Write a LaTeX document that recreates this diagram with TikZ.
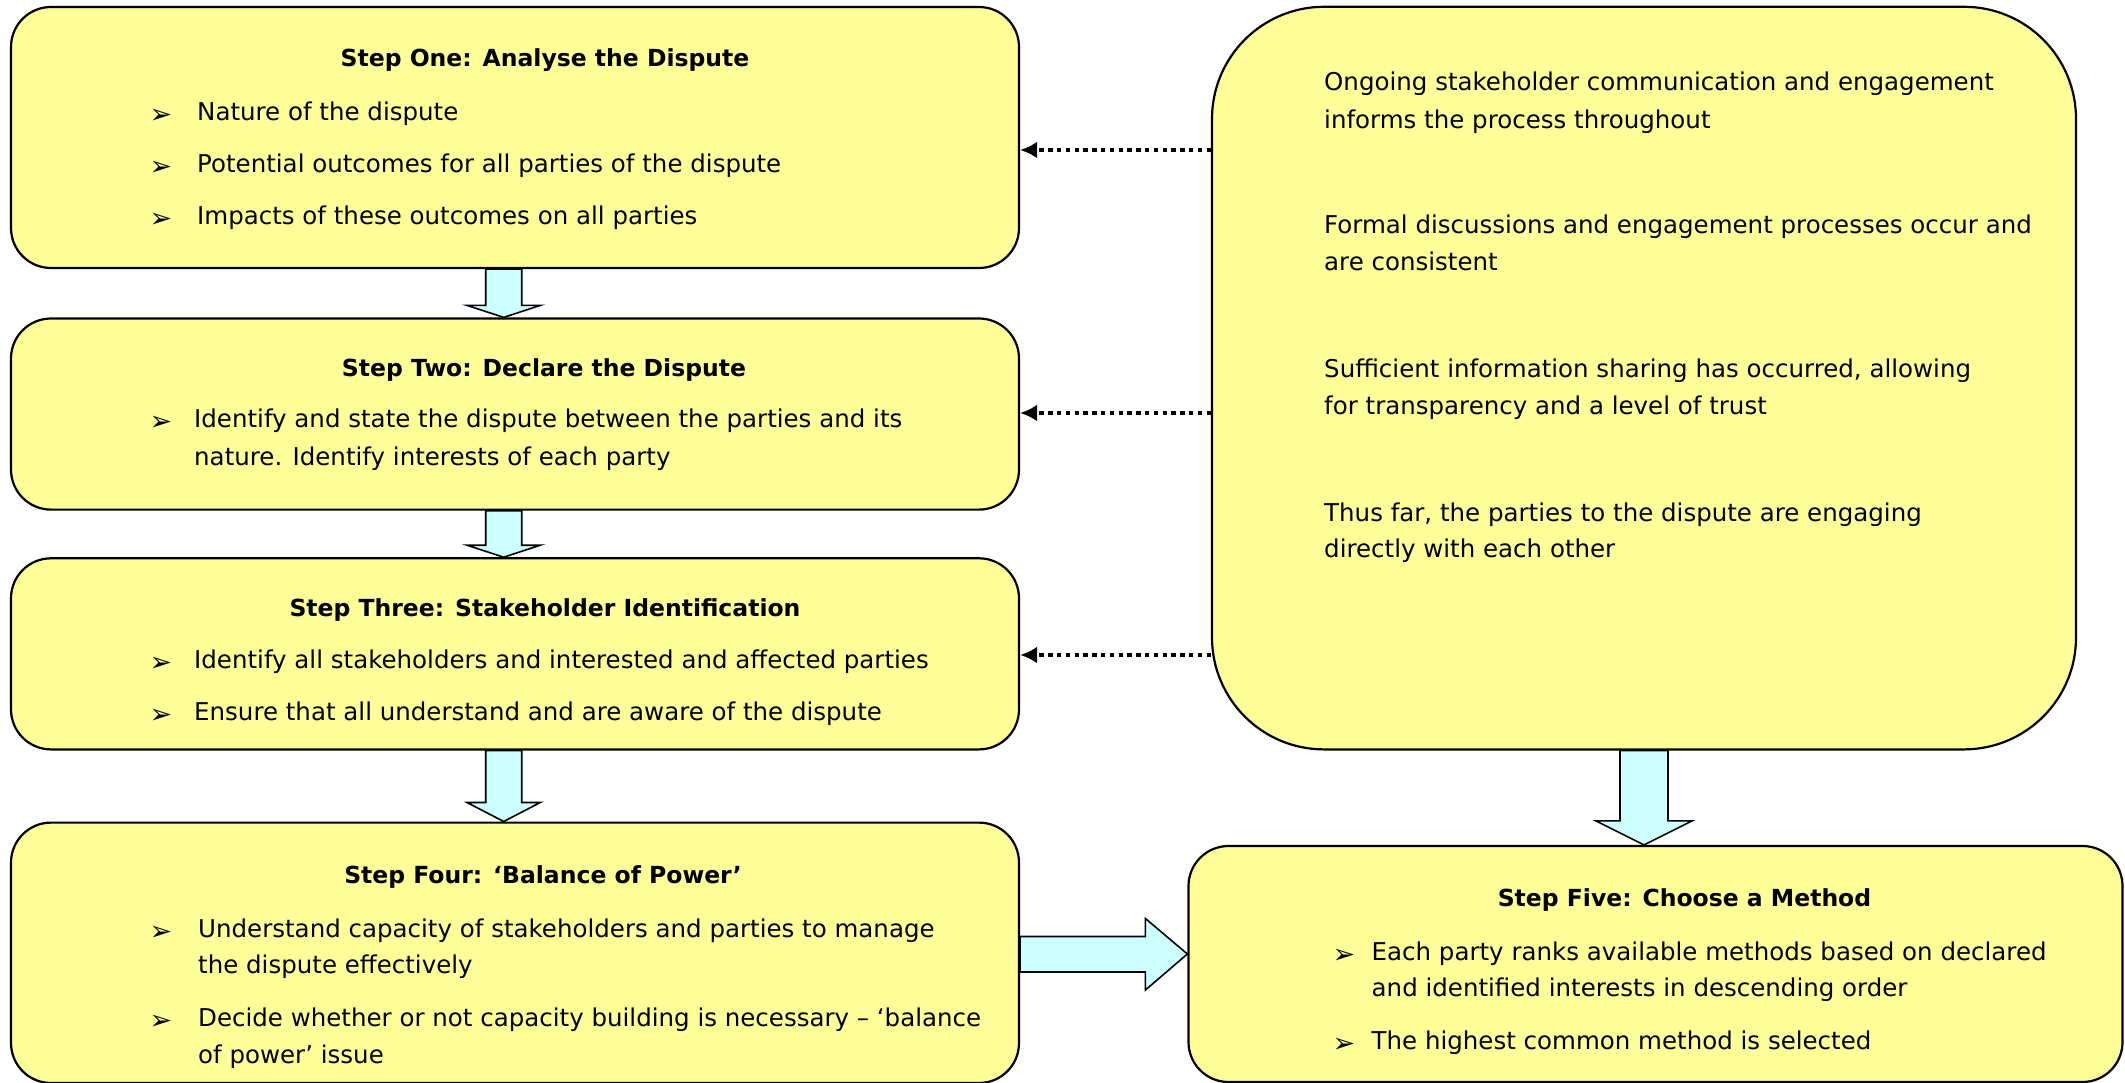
\documentclass[tikz,border=0pt]{standalone}
\usepackage{fontspec}
\setmainfont{DejaVu Sans}
\usetikzlibrary{arrows.meta,fit,calc,backgrounds}
\definecolor{boxfill}{RGB}{255,255,153}
\definecolor{arrowfill}{RGB}{204,255,255}
\newcommand\bodyfont{\fontsize{24.5}{36.6}\selectfont}
\newcommand\headfont{\fontsize{23.5}{30}\selectfont\bfseries}
\newcommand\bulletfont{\fontsize{27}{28}\selectfont}

\begin{document}
\begin{tikzpicture}[x=1pt,y=-1pt,
  box/.style={draw=black, line width=2.2pt, fill=boxfill, inner sep=0pt, rounded corners=40pt},
  ttl/.style={anchor=mid, inner sep=0pt, font=\headfont},
  txt/.style={anchor=mid west, inner sep=0pt, font=\bodyfont},
  bul/.style={anchor=center, inner sep=0pt, font=\bulletfont},
  dotarrow/.style={line width=4.4pt, dash pattern=on 4.4pt off 4.4pt, -{Latex[length=17pt,width=17pt]}},
  blockarrow/.style={draw=black, line width=1.6pt, fill=arrowfill, line join=miter}]

\useasboundingbox (0,0) rectangle (2125,1083);
\clip (0,0) rectangle (2125,1083);

% step boxes
\node[box, fit={(11,7)(1019,268)}] (b1) {};
\node[box, fit={(11,318.5)(1019,509.6)}] (b2) {};
\node[box, fit={(11,558.3)(1019,749.4)}] (b3) {};
\node[box, fit={(11,822.6)(1019,1083)}] (b4) {};
\node[box, fit={(1188.5,846)(2122.5,1082)}] (b5) {};
% stakeholder engagement box
\node[box, rounded corners=112pt, fit={(1212,6.8)(2076,749.4)}] (rb) {};

% block arrows between the steps
\begin{scope}[on background layer]
\draw[blockarrow] let \p1=(b1.south), \p2=(b2.north) in
  (485.7pt,\y1) -- (485.7pt,\y2+12pt) -- (467pt,\y2+12pt) -- (503.7pt,\y2)
  -- (540.3pt,\y2+12pt) -- (521.7pt,\y2+12pt) -- (521.7pt,\y1) -- cycle;
\draw[blockarrow] let \p1=(b2.south), \p2=(b3.north) in
  (485.7pt,\y1) -- (485.7pt,\y2+12pt) -- (467pt,\y2+12pt) -- (503.7pt,\y2)
  -- (540.3pt,\y2+12pt) -- (521.7pt,\y2+12pt) -- (521.7pt,\y1) -- cycle;
\draw[blockarrow] let \p1=(b3.south), \p2=(b4.north) in
  (485.7pt,\y1) -- (485.7pt,\y2+19pt) -- (467pt,\y2+19pt) -- (503.7pt,\y2)
  -- (540.3pt,\y2+19pt) -- (521.7pt,\y2+19pt) -- (521.7pt,\y1) -- cycle;
\draw[blockarrow] let \p1=(b4.east), \p2=(b5.west) in
  (\x1,-936.5pt) -- (\x2-42pt,-936.5pt) -- (\x2-42pt,-918.5pt) -- (\x2,-954pt)
  -- (\x2-42pt,-990pt) -- (\x2-42pt,-972pt) -- (\x1,-972pt) -- cycle;
\draw[blockarrow] let \p1=(rb.south), \p2=(b5.north) in
  (\x1-24pt,\y1) -- (\x1-24pt,\y2+24pt) -- (\x1-48pt,\y2+24pt) -- (\x1,\y2)
  -- (\x1+48pt,\y2+24pt) -- (\x1+24pt,\y2+24pt) -- (\x1+24pt,\y1) -- cycle;
\end{scope}

% dotted feedback arrows
\coordinate (r1) at (0,150);
\coordinate (r2) at (0,413);
\coordinate (r3) at (0,655);
\draw[dotarrow] (rb.west |- r1) -- (b1.east |- r1);
\draw[dotarrow] (rb.west |- r2) -- (b2.east |- r2);
\draw[dotarrow] (rb.west |- r3) -- (b3.east |- r3);

% Step One
\node[ttl] (h1) at (545,64) {Step One: Analyse the Dispute};
\node[bul] (m1a) at (161,116) {➢};
\node[txt] (l1a) at (197,117.5) {Nature of the dispute};
\node[bul] (m1b) at (161,168) {➢};
\node[txt] (l1b) at (197,169.5) {Potential outcomes for all parties of the dispute};
\node[bul] (m1c) at (161,220) {➢};
\node[txt] (l1c) at (197,221.5) {Impacts of these outcomes on all parties};

% Step Two
\node[ttl] (h2) at (544,373.5) {Step Two: Declare the Dispute};
\node[bul] (m2a) at (161,423) {➢};
\node[txt] (l2a) at (194,424.5) {Identify and state the dispute between the parties and its};
\node[txt] (l2b) at (194,462.5) {nature. Identify interests of each party};

% Step Three
\node[ttl] (h3) at (545,613.5) {Step Three: Stakeholder Identification};
\node[bul] (m3a) at (161,664) {➢};
\node[txt] (l3a) at (194,665.5) {Identify all stakeholders and interested and affected parties};
\node[bul] (m3b) at (161,716) {➢};
\node[txt] (l3b) at (194,717.5) {Ensure that all understand and are aware of the dispute};

% Step Four
\node[ttl] (h4) at (543,880.5) {Step Four: ‘Balance of Power’};
\node[bul] (m4a) at (161,933) {➢};
\node[txt] (l4a) at (198,934.5) {Understand capacity of stakeholders and parties to manage};
\node[txt] (l4b) at (198,971) {the dispute effectively};
\node[bul] (m4b) at (161,1022) {➢};
\node[txt] (l4c) at (198,1023.5) {Decide whether or not capacity building is necessary – ‘balance};
\node[txt] (l4d) at (198,1060.5) {of power’ issue};

% Step Five
\node[ttl] (h5) at (1684.5,903.5) {Step Five: Choose a Method};
\node[bul] (m5a) at (1344,956) {➢};
\node[txt] (l5a) at (1371.5,957.5) {Each party ranks available methods based on declared};
\node[txt] (l5b) at (1371.5,994) {and identified interests in descending order};
\node[bul] (m5b) at (1344,1045) {➢};
\node[txt] (l5c) at (1371.5,1046.5) {The highest common method is selected};

% ongoing engagement notes
\node[txt] (p1a) at (1324,87.5) {Ongoing stakeholder communication and engagement};
\node[txt] (p1b) at (1324,125.5) {informs the process throughout};
\node[txt] (p2a) at (1324,231) {Formal discussions and engagement processes occur and};
\node[txt] (p2b) at (1324,267.5) {are consistent};
\node[txt] (p3a) at (1324,374.5) {Sufficient information sharing has occurred, allowing};
\node[txt] (p3b) at (1324,411.5) {for transparency and a level of trust};
\node[txt] (p4a) at (1324,518.5) {Thus far, the parties to the dispute are engaging};
\node[txt] (p4b) at (1324,555) {directly with each other};
\end{tikzpicture}
\end{document}
